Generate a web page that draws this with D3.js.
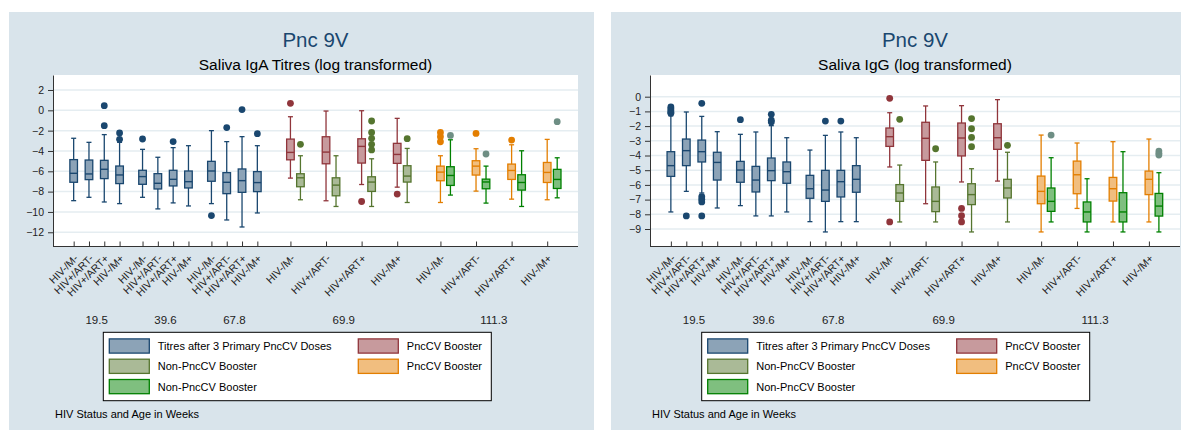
<!DOCTYPE html>
<html>
<head>
<meta charset="utf-8">
<script src="https://cdn.jsdelivr.net/npm/d3@7"></script>
<style>
  body { margin: 0; background: #fff; }
  text { font-family: "Liberation Sans", Arial, sans-serif; }
</style>
</head>
<body>
<div id="chart"></div>
<script>
// categories
const hivStatus = ["HIV-/M-", "HIV+/ART-", "HIV+/ART+", "HIV-/M+"];
const ageWeeks = ["19.5", "39.6", "67.8", "69.9", "111.3"];
const twoBoxAges = ["69.9", "111.3"];
const legendLabels = ["Titres after 3 Primary PncCV Doses", "PncCV Booster", "Non-PncCV Booster", "PncCV Booster", "Non-PncCV Booster"];
const xTitle = "HIV Status and Age in Weeks";
const igaTicks = [2, 0, -2, -4, -6, -8, -10, -12];
const iggTicks = [0, -1, -2, -3, -4, -5, -6, -7, -8, -9];

// box stats: [lower whisker, q1, median, q3, upper whisker]
// IgA
const igaPrimary = [
  [-8.89, -7.08, -6.2, -4.85, -2.75], [-8.56, -6.82, -6.26, -4.89, -3.15], [-9.02, -6.72, -5.8, -4.92, -2.39], [-9.18, -7.21, -6.36, -5.48, -3.15],
  [-8.56, -7.28, -6.52, -5.9, -3.84], [-9.7, -7.74, -7.18, -6.23, -4.62], [-9.11, -7.44, -6.79, -5.9, -3.67], [-9.41, -7.64, -7.02, -5.97, -3.48],
  [-9.18, -6.98, -5.97, -5.02, -2.0], [-10.79, -8.2, -7.08, -6.13, -3.08], [-11.48, -8.07, -6.92, -5.77, -2.59], [-10.1, -8.0, -7.11, -6.03, -3.48]
];
const igaPrimaryOut = [[], [], [0.46, -1.51], [-2.23, -2.85], [-2.82], [], [-3.08], [], [-10.36], [-1.7], [0.07], [-2.3]];
const igaPncBooster69 = [[-6.67, -4.87, -4.14, -2.83, -0.63], [-8.9, -5.26, -4.11, -2.6, -0.07], [-7.3, -5.19, -3.55, -2.8, -0.04], [-7.56, -5.22, -4.34, -3.25, -0.79]];
const igaPncBooster69Out = [[0.69], [], [-8.97], [-8.24]];
const igaNonPnc69 = [[-8.8, -7.52, -6.64, -6.24, -4.47], [-9.46, -8.41, -7.36, -6.64, -4.47], [-9.46, -7.98, -7.06, -6.54, -4.77], [-9.07, -7.06, -6.47, -5.45, -3.75]];
const igaNonPnc69Out = [[-3.35], [], [-1.05, -2.17, -2.76, -3.35, -3.9], [-2.79]];
const igaPncBooster111 = [[-9.07, -6.93, -6.08, -5.49, -4.47], [-7.95, -6.37, -5.49, -4.96, -3.78], [-8.74, -6.8, -5.92, -5.29, -3.39], [-8.8, -7.1, -6.11, -5.13, -2.86]];
const igaPncBooster111Out = [[-2.17, -2.6, -3.09], [-2.27], [-2.93], []];
const igaNonPnc111 = [[-8.34, -7.39, -6.41, -5.55, -2.9], [-9.13, -7.72, -7.05, -6.77, -5.49], [-9.46, -7.85, -7.1, -6.34, -3.98], [-8.61, -7.69, -6.8, -5.81, -4.67]];
const igaNonPnc111Out = [[-2.47], [-4.3], [], [-1.12]];
// IgG
const iggPrimary = [
  [-7.84, -5.42, -4.69, -3.74, -1.3], [-6.44, -4.69, -3.67, -2.88, -1.04], [-6.55, -4.44, -3.74, -2.95, -1.34], [-7.57, -5.67, -4.47, -3.78, -2.38],
  [-7.41, -5.82, -4.99, -4.4, -2.56], [-8.11, -6.48, -5.67, -4.74, -2.4], [-8.11, -5.71, -5.03, -4.17, -1.97], [-7.84, -5.89, -5.1, -4.44, -2.79],
  [-8.5, -6.91, -6.26, -5.35, -3.63], [-9.2, -7.12, -6.35, -5.01, -2.63], [-8.5, -6.82, -5.78, -5.01, -2.4], [-8.5, -6.5, -5.62, -4.69, -2.79]
];
const iggPrimaryOut = [[-0.7, -0.82, -0.95, -1.05, -1.13], [-8.11], [-0.45, -6.8, -6.98, -7.16, -8.11], [], [-1.56], [], [-1.2, -1.6, -1.72], [], [], [-1.66], [-1.66], []];
const iggPncBooster69 = [[-4.78, -3.38, -2.72, -2.13, -1.09], [-7.28, -4.33, -2.83, -1.74, -0.63], [-5.8, -4.03, -2.81, -1.79, -0.61], [-5.74, -3.58, -2.79, -1.84, -0.2]];
const iggPncBooster69Out = [[-0.11, -8.52], [], [-7.6, -8.09, -8.52], []];
const iggNonPnc69 = [[-8.52, -7.12, -6.55, -5.98, -4.65], [-8.52, -7.82, -7.12, -6.14, -4.44], [-9.2, -7.34, -6.66, -5.92, -4.9], [-8.52, -6.89, -6.21, -5.62, -3.78]];
const iggNonPnc69Out = [[-1.54], [-3.54], [-1.49, -2.18, -2.77, -3.4], [-3.31]];
const iggPncBooster111 = [[-9.2, -7.28, -6.44, -5.4, -2.61], [-7.6, -6.6, -5.31, -4.38, -3.15], [-8.52, -7.1, -6.26, -5.49, -3.06], [-8.52, -6.66, -5.62, -5.06, -2.88]];
const iggPncBooster111Out = [[], [], [], []];
const iggNonPnc111 = [[-8.52, -7.8, -7.12, -6.21, -4.15], [-9.2, -8.52, -7.84, -7.16, -5.58], [-9.2, -8.52, -7.84, -6.53, -3.74], [-9.2, -8.12, -7.44, -6.58, -5.17]];
const iggNonPnc111Out = [[-2.61], [], [], [-3.7, -3.85, -3.97]];

// s2color-ish
const lineColors = ["#1a476f", "#90353b", "#55752f", "#e37e00", "#008000"];
const fillColors = ["#8ca3b7", "#c79a9d", "#aaba97", "#f1be7f", "#7fbf7f"];
const dotColors = ["#1a476f", "#90353b", "#55752f", "#e37e00", "#6e8e84"];

const W = 1181, H = 430;
const svg = d3.select("#chart").append("svg").attr("width", W).attr("height", H);
svg.append("rect").attr("width", W).attr("height", H).attr("fill", "#fff");

// category slot positions (units): 1 per single-box category, 2.325 per two-box one, 0.5 between ages
function slotCenters() {
  var pos = 0.85, centers = [];
  ageWeeks.forEach(function(a) {
    var w = twoBoxAges.indexOf(a) >= 0 ? 2.325 : 1;
    hivStatus.forEach(function() { centers.push(pos + w / 2); pos += w; });
    pos += 0.5;
  });
  return { centers: centers, end: pos - 0.5 + 0.85 };
}

function drawPanel(p) {
  var g = svg.append("g");
  g.append("rect").attr("x", p.x0).attr("y", 12).attr("width", p.x1 - p.x0).attr("height", H - 12).attr("fill", "#d9e4eb");
  g.append("rect").attr("x", p.plotL).attr("y", p.top).attr("width", p.plotR - p.plotL).attr("height", p.bottom - p.top).attr("fill", "#fff");

  var slots = slotCenters();
  var x = d3.scaleLinear().domain([0, slots.end]).range([p.plotL, p.plotR]);
  var y = d3.scaleLinear().domain(p.dom).range([p.bottom, p.top]);

  var cx = (p.plotL + p.plotR) / 2;
  g.append("text").attr("x", cx).attr("y", 46.5).attr("text-anchor", "middle")
    .attr("font-size", 20.5).attr("fill", "#1a476f").text(p.title);
  g.append("text").attr("x", cx).attr("y", 70).attr("text-anchor", "middle")
    .attr("font-size", 15.5).attr("fill", "#000").text(p.subtitle);

  // grid
  g.selectAll(".grid").data(p.ticks).enter().append("line")
    .attr("x1", p.plotL).attr("x2", p.plotR)
    .attr("y1", function(d) { return y(d); }).attr("y2", function(d) { return y(d); })
    .attr("stroke", "#e5edf1").attr("stroke-width", 1.5);

  // y axis
  var yAxis = g.append("g").attr("transform", "translate(" + p.plotL + ",0)")
    .call(d3.axisLeft(y).tickValues(p.ticks).tickSize(5).tickSizeOuter(0).tickPadding(4));
  yAxis.select(".domain").attr("stroke", "#333");
  yAxis.selectAll(".tick line").attr("stroke", "#333");
  yAxis.selectAll("text").attr("font-size", 10.5).attr("fill", "#222").style("font-family", "Liberation Sans, Arial, sans-serif");

  // x axis
  var xAxis = g.append("g").attr("transform", "translate(0," + p.bottom + ")")
    .call(d3.axisBottom(x).tickValues(slots.centers).tickSize(-5).tickSizeOuter(0)
      .tickFormat(function(d, i) { return hivStatus[i % 4]; }));
  xAxis.select(".domain").attr("stroke", "#333").attr("d", "M" + p.plotL + ",0H" + p.plotR);
  xAxis.selectAll(".tick line").attr("stroke", "#333");
  xAxis.selectAll("text").attr("font-size", 10.5).attr("fill", "#222")
    .style("font-family", "Liberation Sans, Arial, sans-serif")
    .attr("text-anchor", "end").attr("y", 0).attr("dy", "0.35em")
    .attr("transform", "translate(2,10) rotate(-45)");

  // age labels
  ageWeeks.forEach(function(a, gi) {
    var c = (x(slots.centers[gi * 4]) + x(slots.centers[gi * 4 + 3])) / 2;
    g.append("text").attr("x", c).attr("y", 324).attr("text-anchor", "middle")
      .attr("font-size", 11.5).attr("fill", "#222").text(a);
  });

  // boxes
  var shift = 10, bw = 7.6, cap = 5;
  p.series.forEach(function(s) {
    var col = lineColors[s.k], fill = fillColors[s.k], dot = dotColors[s.k];
    s.stats.forEach(function(st, i) {
      var bx = x(slots.centers[s.first + i]) + s.off * shift;
      var bg = g.append("g");
      bg.append("line").attr("x1", bx).attr("x2", bx).attr("y1", y(st[0])).attr("y2", y(st[4]))
        .attr("stroke", col).attr("stroke-width", 1.3);
      [st[0], st[4]].forEach(function(v) {
        bg.append("line").attr("x1", bx - cap / 2).attr("x2", bx + cap / 2).attr("y1", y(v)).attr("y2", y(v))
          .attr("stroke", col).attr("stroke-width", 1.3);
      });
      bg.append("rect").attr("x", bx - bw / 2).attr("width", bw)
        .attr("y", y(st[3])).attr("height", y(st[1]) - y(st[3]))
        .attr("fill", fill).attr("stroke", col).attr("stroke-width", 1.3);
      bg.append("line").attr("x1", bx - bw / 2).attr("x2", bx + bw / 2).attr("y1", y(st[2])).attr("y2", y(st[2]))
        .attr("stroke", col).attr("stroke-width", 1.4);
      bg.selectAll("circle").data(s.out[i]).enter().append("circle")
        .attr("cx", bx).attr("cy", function(d) { return y(d); }).attr("r", 3.4).attr("fill", dot);
    });
  });

  // legend
  var lx = p.legendX, ly = 332.3;
  g.append("rect").attr("x", lx).attr("y", ly).attr("width", 388).attr("height", 68.4)
    .attr("fill", "#fff").attr("stroke", "#000").attr("stroke-width", 1);
  legendLabels.forEach(function(lab, k) {
    var col = k % 2, row = Math.floor(k / 2);
    var sx = lx + 6 + col * 249, sy = ly + 6.6 + row * 20.3;
    g.append("rect").attr("x", sx).attr("y", sy).attr("width", 40).attr("height", 14.2)
      .attr("fill", fillColors[k]).attr("stroke", lineColors[k]).attr("stroke-width", 1.3);
    g.append("text").attr("x", sx + 48.5).attr("y", sy + 7.2).attr("dy", "0.35em")
      .attr("font-size", 11).attr("fill", "#000").text(lab);
  });

  g.append("text").attr("x", p.plotL + 2).attr("y", 418).attr("font-size", 11)
    .attr("fill", "#000").text(xTitle);
}

drawPanel({
  x0: 9, x1: 594, plotL: 53, plotR: 578, top: 75, bottom: 246.5, dom: [-13.4, 3.476],
  ticks: igaTicks, title: "Pnc 9V", subtitle: "Saliva IgA Titres (log transformed)", legendX: 103.3,
  series: [
    { k: 0, first: 0, off: 0, stats: igaPrimary, out: igaPrimaryOut },
    { k: 1, first: 12, off: 0, stats: igaPncBooster69, out: igaPncBooster69Out },
    { k: 2, first: 12, off: 1, stats: igaNonPnc69, out: igaNonPnc69Out },
    { k: 3, first: 16, off: 0, stats: igaPncBooster111, out: igaPncBooster111Out },
    { k: 4, first: 16, off: 1, stats: igaNonPnc111, out: igaNonPnc111Out }
  ]
});

drawPanel({
  x0: 611, x1: 1196, plotL: 650, plotR: 1180, top: 75, bottom: 246.5, dom: [-10.19, 1.476],
  ticks: iggTicks, title: "Pnc 9V", subtitle: "Saliva IgG (log transformed)", legendX: 701.7,
  series: [
    { k: 0, first: 0, off: 0, stats: iggPrimary, out: iggPrimaryOut },
    { k: 1, first: 12, off: 0, stats: iggPncBooster69, out: iggPncBooster69Out },
    { k: 2, first: 12, off: 1, stats: iggNonPnc69, out: iggNonPnc69Out },
    { k: 3, first: 16, off: 0, stats: iggPncBooster111, out: iggPncBooster111Out },
    { k: 4, first: 16, off: 1, stats: iggNonPnc111, out: iggNonPnc111Out }
  ]
});
</script>
</body>
</html>
